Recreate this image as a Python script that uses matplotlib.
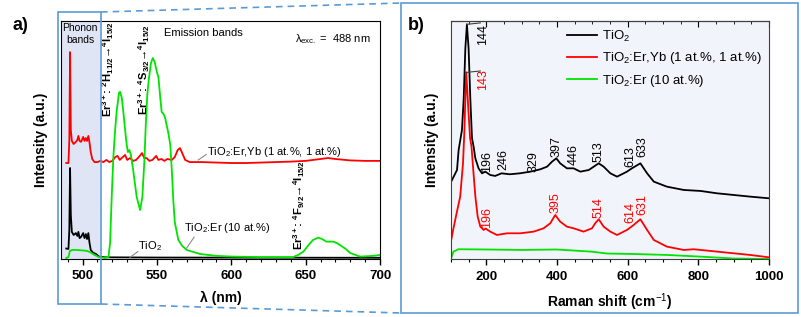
import matplotlib
matplotlib.use("Agg")
import matplotlib.pyplot as plt
from matplotlib.lines import Line2D
from matplotlib.patches import Rectangle
from matplotlib.ticker import MultipleLocator

plt.rcParams['font.family'] = ['Liberation Sans', 'DejaVu Sans']
plt.rcParams['mathtext.fontset'] = 'custom'
plt.rcParams['mathtext.rm'] = 'Liberation Sans'
plt.rcParams['mathtext.it'] = 'Liberation Sans:italic'
plt.rcParams['mathtext.bf'] = 'Liberation Sans:bold'

# ---- panel a: emission spectra (lambda in nm, intensity a.u.) ----
lam_red = [489, 490.5, 491.1, 491.6, 492.1, 492.8, 494, 495.5, 496.5, 497.2, 498, 499,
           500.4, 501.3, 502.2, 503, 503.9, 504.6, 505.5, 506.5, 508, 510, 512, 514, 516,
           518, 520, 522, 523.5, 525, 527, 528.6, 530, 532, 534, 536, 538.5, 540, 541.5,
           543, 545, 547, 549.5, 551, 553, 555, 557, 560, 562, 564, 565.5, 567, 569, 572,
           580, 590, 600, 610, 620, 630, 640, 650, 660, 665, 670, 680, 690, 700]
int_red = [40.2, 40.2, 49.9, 86.9, 54.1, 49.5, 48.2, 49.1, 49.9, 51.6, 49.5, 49.1,
           51.2, 49.5, 50.7, 49.5, 51.6, 49.1, 44.8, 41.9, 40.6, 40.6, 41.1, 40.6, 41.5,
           40.6, 41.1, 42.7, 43.2, 41.5, 42.7, 43.6, 41.5, 42.3, 41.1, 41.5, 43.2, 44.4, 42.3,
           42.3, 41.1, 41.5, 43.2, 41.5, 41.9, 41.1, 41.9, 41.5, 42.7, 45.7, 46.5, 44.4, 41.5, 40.6,
           40.6, 40.4, 40.2, 40.2, 40.4, 40.6, 40.8, 41.1, 41.9, 42.3, 41.9, 41.3, 41.1, 41.1]

lam_green = [489, 490.5, 491.5, 493, 496, 500, 503, 505, 508, 511, 515, 517.4, 518.5,
             519.6, 520.7, 521.8, 523, 524.5, 525.2, 526.4, 527.5, 528.6, 529.7, 530.5,
             531.5, 532.5, 534, 536.4, 538.7, 540.2, 541.6, 542.5, 543.5, 544.5, 546,
             547.2, 548.5, 550, 551, 552.4, 553.2, 554.5, 555.5, 557.7, 559, 560, 561,
             562, 564.4, 567, 570, 579, 590, 601, 620, 641.7, 645, 648.5, 652, 655, 658.5,
             661, 664, 668.5, 671, 673, 677, 680, 686.6, 695.5, 700]
int_green = [0.2, 0.6, 3.2, 3.6, 3.6, 3.4, 3.2, 2.7, 1.5, 0.6, 0.2, 0.6, 6.5,
             25.9, 42.7, 53.3, 62.5, 69.7, 70.2, 67.6, 61.3, 54.1, 47.8, 44.8,
             45.7, 43.6, 37.3, 25.9, 20.4, 25.9, 41.5, 56.2, 68.8, 75.2, 82.3,
             84.4, 82.7, 78.5, 76.4, 66.7, 61.7, 60.8, 59.2, 52.8, 47.8, 37.3, 24.6,
             15.4, 7.8, 5.3, 3.6, 1.9, 1.1, 0.8, 0.6, 0.6, 1.5, 2.9, 5.7, 7.8, 8.8,
             8.2, 7.1, 7.1, 6.5, 5.7, 4.0, 2.3, 0.8, 1.1, 1.5]

lam_black = [489, 490.5, 491.1, 491.6, 492.1, 492.8, 494, 495.5, 496.5, 497.2, 498, 499,
             500.4, 501.3, 502.2, 503, 503.9, 504.6, 505.5, 507, 509, 511, 515, 550, 700]
int_black = [4.2, 4.0, 12.0, 38.1, 18.3, 11.2, 9.9, 10.7, 9.5, 11.2, 8.6, 9.1,
             10.7, 8.6, 10.3, 8.2, 10.7, 6.9, 3.6, 2.5, 1.9, 0.8, 0.5, 0.4, 0.3]

# ---- panel b: Raman spectra (cm-1, intensity a.u.) ----
nu_black = [100, 107.6, 117, 121.6, 131, 136, 140.6, 145, 149.8, 154.6, 159.4, 164, 168.9,
            178, 187.7, 197, 211, 225, 243, 266.5, 295, 324.5, 353, 372, 386, 398, 409,
            428, 447, 466, 490, 504, 518, 532, 551, 570, 598, 612, 636, 655, 674, 711,
            759, 806, 853, 900, 947, 1000]
ram_black = [32.4, 34.6, 37.4, 45.8, 54.2, 67.5, 88.5, 98.6, 88.5, 67.6, 50.8, 47.2, 42.3,
             38.1, 36.0, 36.7, 35.3, 34.9, 36.0, 35.6, 36.0, 36.7, 37.7, 38.8, 40.9, 42.3, 40.2,
             38.1, 38.1, 36.7, 37.4, 38.8, 40.2, 38.8, 36.0, 34.6, 36.7, 38.1, 40.2, 36.0, 32.5, 30.4,
             29.0, 28.6, 27.6, 26.9, 26.2, 25.5]

nu_red = [100, 106, 116, 126, 134, 138, 140.5, 143, 146, 150, 154, 158, 163, 169, 175.5,
          183, 192.4, 198, 211, 230, 258.6, 296, 334, 362, 381, 395, 409, 428, 447, 475,
          499, 508, 518, 532, 551, 570, 598, 617, 636, 655, 674, 711, 759, 787, 853, 900,
          947, 1000]
ram_red = [7.6, 12.2, 19.3, 26.2, 40.3, 54.2, 66.8, 78.4, 71.0, 60.5, 50.8, 47.2, 37.4, 26.2, 17.8,
           13.6, 12.2, 12.8, 11.5, 10.1, 10.8, 10.8, 11.5, 12.9, 15.0, 18.5, 15.7, 13.6, 12.9, 11.5,
           12.9, 15.0, 16.7, 13.6, 11.5, 10.1, 12.2, 14.3, 16.7, 12.2, 8.0, 5.2, 3.8, 4.1, 3.1, 2.4,
           1.7, 0.7]

nu_green = [100, 107, 121, 200, 300, 398, 497, 542, 617, 711, 806, 900, 1000]
ram_green = [0.2, 3.1, 4.1, 4.0, 3.8, 4.0, 3.1, 2.3, 2.1, 1.7, 1.0, 0.2, 0.0]

# peak labels in panel b
peaks_black = ['196', '246', '329', '397', '446', '513', '613', '633']
peaks_black_x = [202, 249, 334, 400, 447, 518, 609, 641]
peaks_black_y = [36.7, 37.4, 36.7, 43.0, 39.5, 40.9, 38.8, 43.0]
peaks_red = ['196', '395', '514', '614', '631']
peaks_red_x = [202, 395, 518, 609, 641]
peaks_red_y = [12.9, 19.2, 17.1, 15.0, 18.5]

labels = ['TiO$_2$', 'TiO$_2$:Er,Yb (1 at.%, 1 at.%)', 'TiO$_2$:Er (10 at.%)']
er_labels = [r'$\mathbf{Er^{3+}}$: $\mathbf{^{2}H_{11/2}}$→$\mathbf{^{4}I_{15/2}}$',
             r'$\mathbf{Er^{3+}}$: $\mathbf{^{4}S_{3/2}}$→$\mathbf{^{4}I_{15/2}}$',
             r'$\mathbf{Er^{3+}}$: $\mathbf{^{4}F_{9/2}}$→$\mathbf{^{4}I_{15/2}}$']
er_x = [517.5, 541.2, 645.6]
er_y = [59.6, 60.6, 3.4]
colors = ['black', '#ff0000', '#00e400']
blue = '#5b9bd5'

fig = plt.figure(figsize=(8.01, 3.17), dpi=100)
W, H = 801.0, 317.0


def px(x, y):
    return x / W, 1 - y / H


ax1 = fig.add_axes([61 / W, 1 - 258.5 / H, 319 / W, 237.5 / H])
ax2 = fig.add_axes([451 / W, 1 - 259 / H, 318 / W, 238 / H])

# ---------- panel a ----------
ax1.axvspan(485.5, 511.8, color='#dfe5f5', zorder=0, lw=0)
ax1.plot(lam_black, int_black, color=colors[0], lw=1.3)
ax1.plot(lam_red, int_red, color=colors[1], lw=1.3)
ax1.plot(lam_green, int_green, color=colors[2], lw=1.3)
ax1.set_xlim(485.5, 700)
ax1.set_ylim(0, 100)
ax1.set_yticks([])
ax1.xaxis.set_major_locator(MultipleLocator(50))
ax1.xaxis.set_minor_locator(MultipleLocator(10))
ax1.tick_params(axis='x', which='major', direction='out', length=4, width=1, pad=4.5, labelsize=9.5)
ax1.tick_params(axis='x', which='minor', direction='out', length=2, width=0.8)
for t in ax1.get_xticklabels():
    t.set_fontweight('bold')
ax1.set_xlabel('λ (nm)', fontsize=10, fontweight='bold', labelpad=6)
ax1.set_ylabel('Intensity (a.u.)', fontsize=10, fontweight='bold', labelpad=9)

ax1.text(498.3, 94.5, 'Phonon\nbands', fontsize=7.5, ha='center', va='center', linespacing=1.35)
ax1.text(581, 94.8, 'Emission bands', fontsize=8, ha='center', va='center')
ax1.text(643, 92.4, 'λ$_{\\rm exc.}$ =  488 nm', fontsize=8, ha='left', va='center')

for s, x, y in zip(er_labels, er_x, er_y):
    ax1.text(x, y, s, rotation=90, fontsize=8.1, fontweight='bold', ha='center', va='bottom')

ax1.text(583.5, 45, labels[1], fontsize=8, ha='left', va='center')
ax1.plot([577.8, 583.2], [41.5, 43.8], color='#8c8c8c', lw=0.8)
ax1.text(568.2, 12.7, labels[2], fontsize=8, ha='left', va='center')
ax1.plot([569.8, 575.0], [4.2, 9.0], color='#8c8c8c', lw=0.8)
ax1.text(537.3, 5.2, labels[0], fontsize=8, ha='left', va='center')
ax1.plot([531.9, 537.2], [0.5, 2.9], color='#8c8c8c', lw=0.8)

# ---------- panel b ----------
ax2.set_facecolor('#f1f5fb')
for name, xs, ys, c in zip(labels, [nu_black, nu_red, nu_green],
                           [ram_black, ram_red, ram_green], colors):
    ax2.plot(xs, ys, color=c, lw=1.3, label=name)
ax2.set_xlim(100, 1000)
ax2.set_ylim(0, 100)
ax2.set_yticks([])
ax2.xaxis.set_major_locator(MultipleLocator(200))
ax2.xaxis.set_minor_locator(MultipleLocator(50))
ax2.tick_params(axis='x', which='major', direction='out', length=4, width=1, pad=4.5, labelsize=9.5)
ax2.tick_params(axis='x', which='minor', direction='out', length=2, width=0.8)
for t in ax2.get_xticklabels():
    t.set_fontweight('bold')
top = ax2.secondary_xaxis('top')
top.xaxis.set_major_locator(MultipleLocator(200))
top.xaxis.set_minor_locator(MultipleLocator(50))
top.tick_params(axis='x', which='major', direction='in', length=4, labeltop=False)
top.tick_params(axis='x', which='minor', direction='in', length=2)
for sp in ax2.spines.values():
    sp.set_color('#404040')
ax2.set_xlabel('Raman shift (cm$^{-1}$)', fontsize=10, fontweight='bold', labelpad=6)
ax2.set_ylabel('Intensity (a.u.)', fontsize=10, fontweight='bold', labelpad=9)

ax2.text(190, 89.9, '144', rotation=90, fontsize=9, ha='center', va='bottom', color='black')
ax2.plot([145, 183], [98.6, 99.2], color='#404040', lw=0.8)
ax2.text(190, 71.0, '143', rotation=90, fontsize=9, ha='center', va='bottom', color='#ff0000')
ax2.plot([143, 183], [78.4, 79.0], color='#404040', lw=0.8)
for s, x, y in zip(peaks_black, peaks_black_x, peaks_black_y):
    ax2.text(x, y, s, rotation=90, fontsize=9, ha='center', va='bottom', color='black')
for s, x, y in zip(peaks_red, peaks_red_x, peaks_red_y):
    ax2.text(x, y, s, rotation=90, fontsize=9, ha='center', va='bottom', color='#ff0000')

ax2.legend(loc='upper left', bbox_to_anchor=(0.364, 0.968), frameon=False, fontsize=9.5,
           handlelength=2.3, handletextpad=0.35, labelspacing=0.5, borderpad=0, borderaxespad=0)

# ---------- panel letters and zoom box ----------
fig.text(*px(20.5, 25), 'a)', fontsize=13, fontweight='bold', ha='center', va='center')
fig.text(*px(416.5, 25), 'b)', fontsize=13, fontweight='bold', ha='center', va='center')

x0, y0 = px(58, 304)
x1, y1 = px(101, 12)
fig.add_artist(Rectangle((x0, y0), x1 - x0, y1 - y0, transform=fig.transFigure,
                         fill=False, edgecolor=blue, lw=1.2))
bx0, by0 = px(401, 313)
bx1, by1 = px(798, 3)
fig.add_artist(Rectangle((bx0, by0), bx1 - bx0, by1 - by0, transform=fig.transFigure,
                         fill=False, edgecolor=blue, lw=1.2))
fig.add_artist(Line2D([x1, bx0], [y1, by1], transform=fig.transFigure,
                      color=blue, lw=1.2, ls=(0, (4, 3))))
fig.add_artist(Line2D([x1, bx0], [y0, by0], transform=fig.transFigure,
                      color=blue, lw=1.2, ls=(0, (4, 3))))

fig.savefig('out.png', dpi=100)
